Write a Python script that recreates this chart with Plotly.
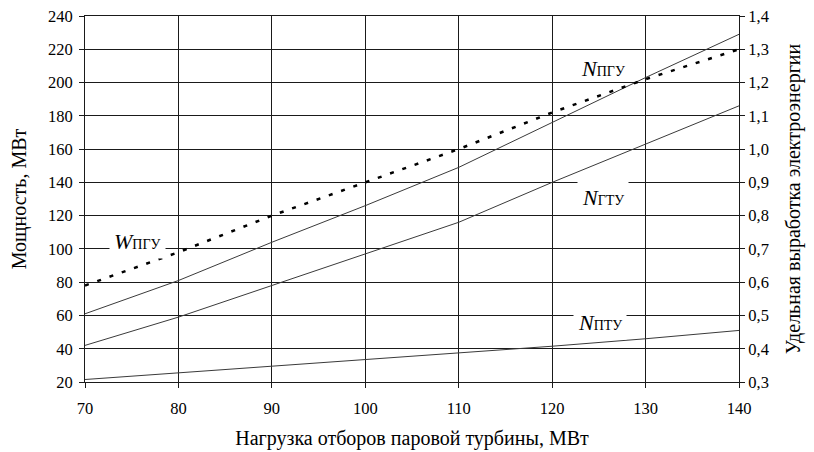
import plotly.graph_objects as go

x_load = [70, 80, 90, 100, 110, 120, 130, 140]
n_pgu = [61, 81, 104, 126, 149, 176, 203, 229]
n_gtu = [42, 59, 78, 97, 116, 140, 163, 186]
n_ptu = [21.5, 25.5, 29.5, 33.5, 37.5, 41.5, 46, 51]
w_pgu = [0.59, 0.69, 0.80, 0.90, 1.00, 1.11, 1.21, 1.30]

x_ticks = [70, 80, 90, 100, 110, 120, 130, 140]
y_ticks = [20, 40, 60, 80, 100, 120, 140, 160, 180, 200, 220, 240]
y2_ticks = [0.3, 0.4, 0.5, 0.6, 0.7, 0.8, 0.9, 1.0, 1.1, 1.2, 1.3, 1.4]
y2_ticktext = ["0,3", "0,4", "0,5", "0,6", "0,7", "0,8", "0,9", "1,0", "1,1", "1,2", "1,3", "1,4"]

FONT = "Liberation Serif"
LINE = "#3a3a3a"
GRID = "#1a1a1a"
TICKFONT = dict(family=FONT, size=16.5, color="black")

fig = go.Figure()
for ys in (n_pgu, n_gtu, n_ptu):
    fig.add_trace(go.Scatter(x=x_load, y=ys, mode="lines",
                             line=dict(color=LINE, width=1), showlegend=False))
fig.add_trace(go.Scatter(x=x_load, y=w_pgu, mode="lines", yaxis="y2",
                         line=dict(color="black", width=2.5, dash="4px,9px"),
                         showlegend=False))

def lab(sym, sub):
    return ("<i>%s</i><span style='font-size:14px'>%s</span>" % (sym, sub))

annots = [
    dict(x=125.4, y=208.5, text=lab("N", "ПГУ"), bg=None),
    dict(x=125.4, y=131, text=lab("N", "ГТУ"), bg="white"),
    dict(x=75.6, y=104.5, text=lab("W", "ПГУ"), bg="white"),
    dict(x=125.1, y=55.5, text=lab("N", "ПТУ"), bg="white"),
]
for a in annots:
    fig.add_annotation(x=a["x"], y=a["y"], xref="x", yref="y", text=a["text"],
                       showarrow=False, font=dict(family=FONT, size=22, color="black"),
                       bgcolor=a["bg"] if a["bg"] else "rgba(0,0,0,0)", borderpad=4)

fig.update_layout(
    width=814, height=452,
    margin=dict(l=77, r=83, t=8, b=78),
    paper_bgcolor="white", plot_bgcolor="white",
    font=dict(family=FONT, size=16.5, color="black"),
    xaxis=dict(range=[70, 140], tickvals=x_ticks, showgrid=True, gridcolor=GRID, gridwidth=1,
               showline=True, mirror=True, linecolor=GRID, linewidth=1, ticks="outside", ticklen=5,
               tickcolor=GRID, zeroline=False, automargin=False, tickfont=TICKFONT,
               ticklabeloverflow="allow", ticklabelstandoff=6,
               title=dict(text="Нагрузка отборов паровой турбины, МВт", standoff=14)),
    yaxis=dict(range=[20, 240], tickvals=y_ticks, showgrid=True, gridcolor=GRID, gridwidth=1,
               showline=True, linecolor=GRID, linewidth=1, ticks="outside", ticklen=5,
               tickcolor=GRID, zeroline=False, automargin=False, tickfont=TICKFONT,
               ticklabeloverflow="allow", ticklabelstandoff=3,
               title=dict(text="Мощность, МВт", standoff=16)),
    yaxis2=dict(range=[0.3, 1.4], tickvals=y2_ticks, ticktext=y2_ticktext, overlaying="y",
                side="right", showgrid=False, showline=True, linecolor=GRID, linewidth=1,
                ticks="outside", ticklen=5, tickcolor=GRID, zeroline=False, automargin=False,
                tickfont=TICKFONT, ticklabeloverflow="allow",
                title=dict(text="Удельная выработка электроэнергии", standoff=18)),
)

fig.write_html("out.html")
